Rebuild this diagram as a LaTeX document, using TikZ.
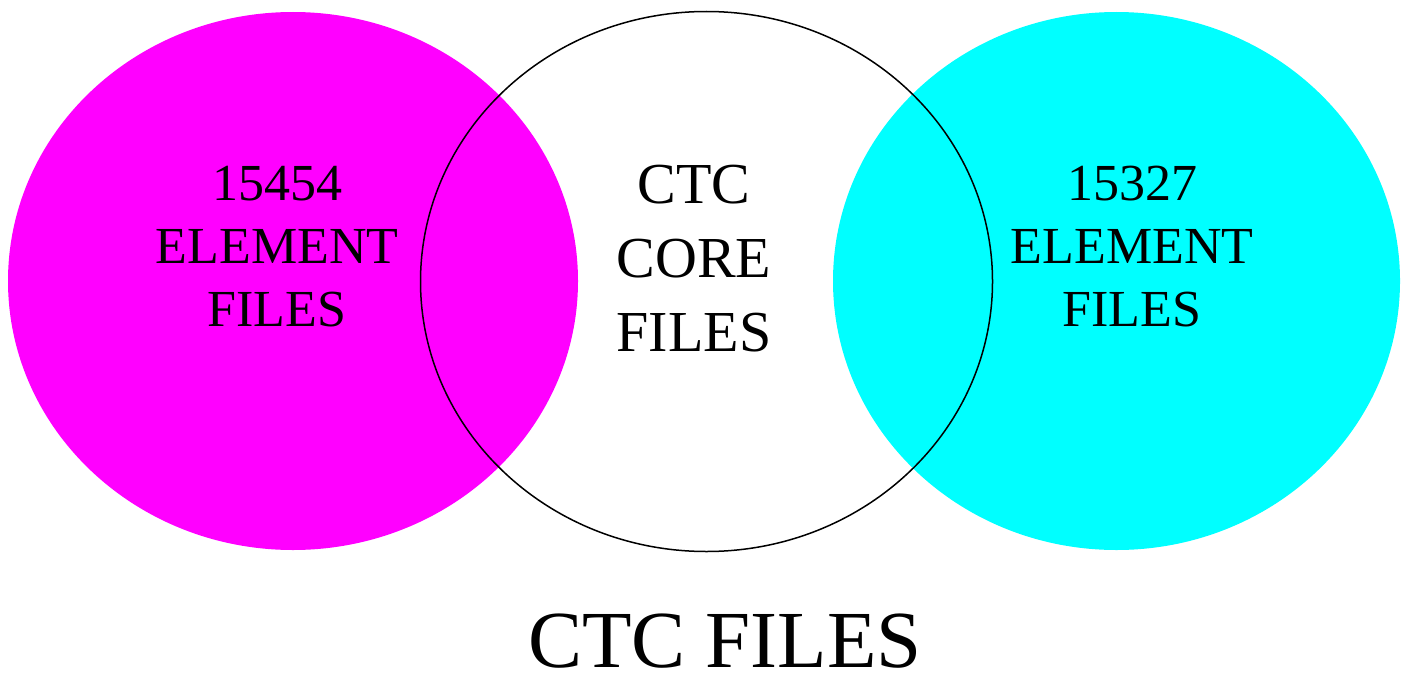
\documentclass[tikz,border=0pt]{standalone}
\usepackage{fontspec}
\setmainfont{Liberation Serif}
\definecolor{elempink}{RGB}{255,0,255}
\definecolor{elemcyan}{RGB}{0,255,255}
\begin{document}
\begin{tikzpicture}[x=1pt,y=-1pt]
    \useasboundingbox (0,0) rectangle (1410,677);
    \fill[elempink] (293,281) ellipse [x radius=285, y radius=269];
    \fill[elemcyan] (1116.5,281) ellipse [x radius=283.5, y radius=269];
    \draw[line width=1.5pt] (706.5,281.5) ellipse [x radius=286, y radius=270];
    \node[align=center, inner sep=0, font=\fontsize{52}{63}\selectfont] (leftfiles) at (277,247) {15454\\ELEMENT\\FILES};
    \node[align=center, inner sep=0, font=\fontsize{58}{74}\selectfont] (corefiles) at (694,259) {CTC\\CORE\\FILES};
    \node[align=center, inner sep=0, font=\fontsize{52}{63}\selectfont] (rightfiles) at (1132,247) {15327\\ELEMENT\\FILES};
    \node[inner sep=0, font=\fontsize{81}{90}\selectfont] (title) at (725,641.5) {CTC FILES};
\end{tikzpicture}
\end{document}
